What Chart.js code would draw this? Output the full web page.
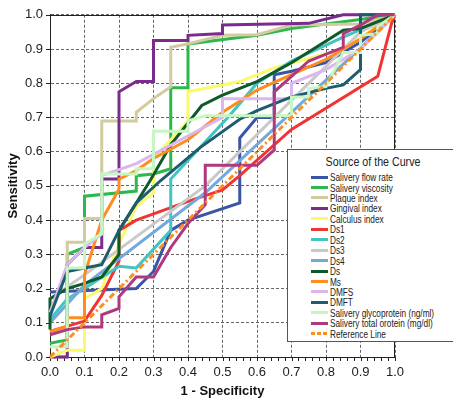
<!DOCTYPE html>
<html>
<head>
<meta charset="utf-8">
<script src="https://cdn.jsdelivr.net/npm/chart.js@4.4.1/dist/chart.umd.min.js"></script>
<style>
  html, body { margin: 0; padding: 0; background: #fff; overflow: hidden; }
  #wrap { position: relative; width: 453px; height: 400px; }
  #legend {
    position: absolute; left: 287px; top: 149px; width: 172px; height: 193px;
    box-sizing: border-box; background: #fff; border: 1px solid #555;
    font-family: "Liberation Sans", Arial, sans-serif; color: #222;
  }
  #legend .title { position: absolute; left: 0; width: 170px; top: 4px; text-align: center; font-size: 13px; line-height: 15px; transform: scaleX(0.82); transform-origin: center; }
  #legend .item { position: absolute; left: 23px; height: 11px; font-size: 11px; line-height: 11px; white-space: nowrap; }
  #legend .sw { display: inline-block; width: 17px; height: 3px; vertical-align: middle; margin-right: 2px; position: relative; top: -1px; }
  #legend .txt { display: inline-block; transform: scaleX(0.75); transform-origin: left center; }
</style>
</head>
<body>
<div id="wrap">
  <canvas id="roc" width="453" height="400"></canvas>
  <div id="legend"></div>
</div>
<script>
// ROC curves, [1 - specificity, sensitivity]
const flowRate = [[0,0.19],[0.25,0.2],[0.3,0.25],[0.35,0.37],[0.4,0.4],[0.55,0.45],[0.55,0.64],[0.6,0.7],[0.65,0.7],[0.65,0.825],[0.7,0.835],[0.8,0.86],[0.9,0.92],[1,1]];
const viscosity = [[0,0.04],[0.05,0.05],[0.05,0.3],[0.1,0.32],[0.1,0.47],[0.25,0.485],[0.25,0.53],[0.3,0.535],[0.35,0.55],[0.35,0.787],[0.4,0.787],[0.4,0.915],[0.6,0.94],[0.7,0.96],[0.85,0.98],[1,1]];
const plaqueIndex = [[0,0],[0.05,0],[0.05,0.335],[0.1,0.335],[0.1,0.405],[0.15,0.405],[0.15,0.69],[0.25,0.69],[0.25,0.715],[0.3,0.755],[0.35,0.79],[0.35,0.905],[0.4,0.915],[0.5,0.94],[0.6,0.942],[0.7,0.97],[0.9,0.973],[1,1]];
const gingivalIndex = [[0,0],[0.05,0],[0.05,0.27],[0.1,0.32],[0.15,0.32],[0.15,0.52],[0.2,0.52],[0.2,0.775],[0.25,0.805],[0.3,0.805],[0.3,0.925],[0.4,0.925],[0.4,0.94],[0.5,0.945],[0.5,0.97],[0.75,0.975],[0.85,1],[1,1]];
const calculusIndex = [[0,0],[0.05,0.02],[0.1,0.02],[0.1,0.17],[0.15,0.2],[0.2,0.33],[0.25,0.44],[0.3,0.48],[0.3,0.58],[0.4,0.69],[0.4,0.775],[0.55,0.805],[0.65,0.845],[0.85,0.9],[1,1]];
const ds1 = [[0,0.075],[0.1,0.105],[0.15,0.18],[0.2,0.28],[0.2,0.37],[0.25,0.4],[0.3,0.418],[0.4,0.455],[0.5,0.488],[0.55,0.53],[0.7,0.665],[0.95,0.82],[0.99,0.975],[1,1]];
const ds2 = [[0,0.11],[0.05,0.17],[0.1,0.2],[0.2,0.265],[0.25,0.26],[0.35,0.37],[0.35,0.52],[0.52,0.705],[0.6,0.8],[0.7,0.865],[0.85,0.935],[1,1]];
const ds3 = [[0,0.17],[0.1,0.24],[0.45,0.5],[0.9,0.95],[1,1]];
const ds4 = [[0,0.1],[0.1,0.21],[0.45,0.48],[0.95,0.95],[1,1]];
const ds = [[0,0.08],[0,0.17],[0.05,0.2],[0.1,0.215],[0.15,0.234],[0.2,0.3],[0.2,0.37],[0.25,0.45],[0.29,0.515],[0.35,0.62],[0.44,0.735],[0.5,0.765],[0.6,0.805],[0.7,0.86],[0.85,0.955],[0.9,0.96],[1,1]];
const ms = [[0,0.075],[0.05,0.09],[0.05,0.115],[0.1,0.115],[0.1,0.24],[0.15,0.4],[0.2,0.49],[0.2,0.52],[0.25,0.545],[0.3,0.58],[0.4,0.635],[0.5,0.715],[0.6,0.78],[0.7,0.825],[0.8,0.87],[0.9,0.93],[1,1]];
const dmfs = [[0,0.13],[0.05,0.27],[0.1,0.32],[0.15,0.36],[0.15,0.53],[0.25,0.565],[0.5,0.7],[0.5,0.755],[0.7,0.755],[0.7,0.8],[0.8,0.84],[0.9,0.9],[1,1]];
const dmft = [[0,0.12],[0.05,0.25],[0.1,0.26],[0.15,0.27],[0.2,0.37],[0.25,0.45],[0.32,0.515],[0.435,0.612],[0.55,0.695],[0.6,0.72],[0.7,0.76],[0.8,0.785],[0.85,0.795],[0.9,0.84],[0.9,1],[1,1]];
const glycoprotein = [[0,0.03],[0.05,0.03],[0.05,0.26],[0.1,0.26],[0.1,0.33],[0.15,0.36],[0.15,0.535],[0.25,0.535],[0.25,0.55],[0.3,0.55],[0.3,0.66],[0.4,0.66],[0.4,0.69],[0.45,0.705],[0.7,0.705],[0.7,0.76],[0.75,0.76],[0.75,0.785],[0.8,0.79],[0.85,0.89],[0.9,0.89],[0.9,0.94],[0.95,0.945],[0.95,0.965],[1,1]];
const totalProtein = [[0,0.065],[0.05,0.08],[0.1,0.088],[0.15,0.088],[0.15,0.123],[0.2,0.142],[0.2,0.176],[0.25,0.234],[0.3,0.234],[0.35,0.32],[0.4,0.39],[0.45,0.445],[0.45,0.56],[0.6,0.56],[0.65,0.605],[0.65,0.775],[0.7,0.82],[0.75,0.865],[0.85,0.905],[0.85,0.945],[0.9,0.97],[0.95,1],[1,1]];
const referenceLine = [[0,0],[1,1]];

const curveNames = ['Salivery flow rate', 'Salivery viscosity', 'Plaque index', 'Gingival index', 'Calculus index',
  'Ds1', 'Ds2', 'Ds3', 'Ds4', 'Ds', 'Ms', 'DMFS', 'DMFT',
  'Salivery glycoprotein (ng/ml)', 'Salivery total orotein (mg/dl)', 'Reference Line'];
const curveData = [flowRate, viscosity, plaqueIndex, gingivalIndex, calculusIndex,
  ds1, ds2, ds3, ds4, ds, ms, dmfs, dmft, glycoprotein, totalProtein, referenceLine];
const axisTicks = [0, 0.1, 0.2, 0.3, 0.4, 0.5, 0.6, 0.7, 0.8, 0.9, 1.0];

const curveColors = ['#3a54a6', '#2db84b', '#d2cb9d', '#7b2b8c', '#fafa6a',
  '#f03434', '#40c4c4', '#c9c9c9', '#72a9dc', '#0e5a2b', '#ff8c1c', '#dcb6ef', '#1e5d6f',
  '#c6f7c2', '#b0387f', '#ff8c1c'];

const FONT = '"Liberation Sans", Arial, sans-serif';

const datasets = curveData.map((pts, i) => {
  const isRef = curveNames[i] === 'Reference Line';
  return {
    label: curveNames[i],
    data: pts.map(([x, y]) => ({ x, y })),
    showLine: true,
    borderColor: curveColors[i],
    backgroundColor: curveColors[i],
    borderWidth: 3,
    borderDash: isRef ? [6, 3, 2, 3] : [],
    pointRadius: 0,
    pointHoverRadius: 0,
    tension: 0,
    fill: false,
    clip: false,
    // later curves sit on top, like the original
    order: curveData.length - i,
  };
});

// frame round the plot, and the tick marks (minor ones on x)
const axisMarks = {
  id: 'axisMarks',
  beforeDatasetsDraw(chart) {
    const { ctx, chartArea: a, scales: { x, y } } = chart;
    ctx.save();
    ctx.strokeStyle = '#222';
    ctx.lineWidth = 1;
    ctx.beginPath();
    ctx.moveTo(a.left, Math.round(a.top) + 0.5);
    ctx.lineTo(Math.round(a.right) - 0.5, Math.round(a.top) + 0.5);
    ctx.lineTo(Math.round(a.right) - 0.5, a.bottom);
    for (let i = 0; i <= 50; i++) {
      const px = Math.round(x.getPixelForValue(i / 50)) + 0.5;
      ctx.moveTo(px, a.bottom);
      ctx.lineTo(px, a.bottom + 4);
    }
    axisTicks.forEach((v) => {
      const py = Math.round(y.getPixelForValue(v)) + 0.5;
      ctx.moveTo(a.left - 4, py);
      ctx.lineTo(a.left, py);
    });
    ctx.stroke();
    ctx.restore();
  },
};

const tickFont = { family: FONT, size: 13 };
const titleFont = { family: FONT, size: 13, weight: 'bold' };

new Chart(document.getElementById('roc'), {
  type: 'scatter',
  data: { datasets },
  options: {
    responsive: false,
    animation: false,
    events: [],
    layout: { padding: { top: 13, right: 58, left: 0, bottom: 0 } },
    plugins: { legend: { display: false }, tooltip: { enabled: false } },
    scales: {
      x: {
        type: 'linear', min: 0, max: 1,
        afterBuildTicks(s) { s.ticks = axisTicks.map((v) => ({ value: v })); },
        ticks: { font: tickFont, color: '#222', padding: 8, maxRotation: 0, autoSkip: false, callback: (v) => Number(v).toFixed(1) },
        grid: { color: '#666', lineWidth: 1, drawTicks: false },
        border: { display: true, color: '#222', width: 1, dash: [3, 2] },
        title: { display: true, text: '1 - Specificity', font: titleFont, color: '#111', padding: { top: 0, bottom: 1 } },
        afterFit(s) { s.height = 43; },
      },
      y: {
        type: 'linear', min: 0, max: 1,
        afterBuildTicks(s) { s.ticks = axisTicks.map((v) => ({ value: v })); },
        ticks: { font: tickFont, color: '#222', padding: 7, autoSkip: false, callback: (v) => Number(v).toFixed(1) },
        grid: { color: '#666', lineWidth: 1, drawTicks: false },
        border: { display: true, color: '#222', width: 1, dash: [3, 2] },
        title: { display: true, text: 'Sensitivity', font: titleFont, color: '#111', padding: { top: 6, bottom: 0 } },
        afterFit(s) { s.width = 50; },
      },
    },
  },
  plugins: [axisMarks],
});

// legend box inside the plot, as in the original
const legend = document.getElementById('legend');
const title = document.createElement('div');
title.className = 'title';
title.textContent = 'Source of the Curve';
legend.appendChild(title);
curveNames.forEach((name, i) => {
  const row = document.createElement('div');
  row.className = 'item';
  row.style.top = (22 + i * 10.45).toFixed(1) + 'px';
  const sw = document.createElement('span');
  sw.className = 'sw';
  if (name === 'Reference Line') {
    sw.style.background = `repeating-linear-gradient(90deg, ${curveColors[i]} 0 4px, transparent 4px 6px)`;
  } else {
    sw.style.background = curveColors[i];
  }
  const txt = document.createElement('span');
  txt.className = 'txt';
  txt.textContent = name;
  row.appendChild(sw);
  row.appendChild(txt);
  legend.appendChild(row);
});
</script>
</body>
</html>
